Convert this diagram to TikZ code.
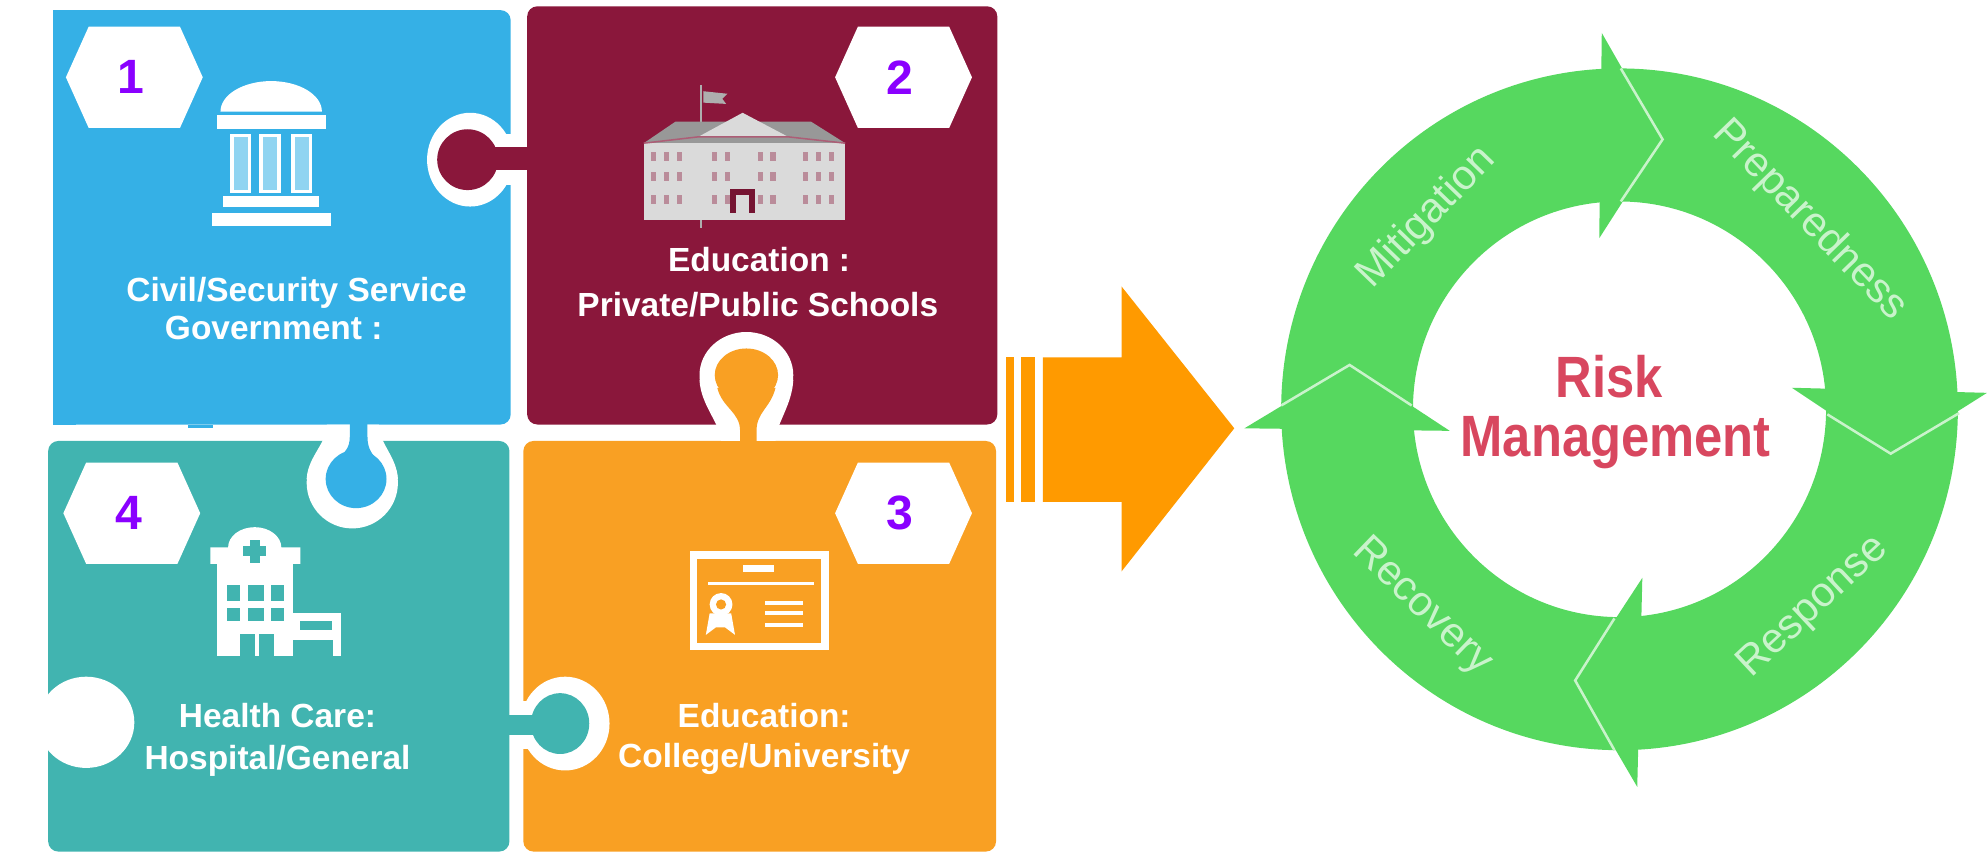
\documentclass[tikz,border=0pt]{standalone}
\usepackage{fontspec}
\setmainfont{Liberation Sans}
\usetikzlibrary{calc,positioning}
\definecolor{skyblue}{HTML}{35B0E6}
\definecolor{wine}{HTML}{8A173B}
\definecolor{sandorange}{HTML}{F9A023}
\definecolor{tealgreen}{HTML}{41B4B0}
\definecolor{arroworange}{HTML}{FF9A00}
\definecolor{ringgreen}{HTML}{56D85F}
\definecolor{ringline}{HTML}{C9F3CB}
\definecolor{numviolet}{HTML}{8A00FF}
\definecolor{riskred}{HTML}{D8475F}
\definecolor{schoolgray}{HTML}{DADADA}
\tikzset{
  paneltext/.style={text=white,font=\fontsize{13.2}{15}\selectfont\bfseries,inner sep=0pt,anchor=base},
  numtext/.style={text=numviolet,font=\fontsize{19}{22}\selectfont\bfseries,inner sep=0pt},
  ringtext/.style={text=ringline,font=\fontsize{16.5}{20}\selectfont,inner sep=0pt},
  risktext/.style={text=riskred,font=\fontsize{23}{26}\selectfont\bfseries,inner sep=0pt,xscale=.87,anchor=base},
}
\begin{document}
\begin{tikzpicture}[x=.5pt,y=-.5pt]
\useasboundingbox (0,0) rectangle (1568,672);

% Puzzle panels with color coding
\foreach \xa/\ya/\xb/\yb/\panelcol in {42/8/403/335/skyblue, 416/5/787/335/wine, 413/348/786/672/sandorange, 38/348/402/672/tealgreen} {
    \fill[fill=\panelcol, rounded corners=4pt] (\xa,\ya) rectangle (\xb,\yb);
}
\fill[skyblue] (42,8) rectangle (60,335);
\fill[skyblue] (148,335) rectangle (168,338);

% Tabs: white ring first, then the colored knob
\fill[white] (371,126) ellipse [x radius=34, y radius=37];
\fill[white] (380,106) rectangle (416,146);
\fill[wine] (369,126) ellipse [x radius=24, y radius=24];
\fill[wine] (369,116) rectangle (420,134);

\fill[white] (589,296) ellipse [x radius=37, y radius=34];
\fill[white] (569,348) .. controls (569,335) and (553,320) .. (552,300) -- (626,300) .. controls (625,320) and (612,335) .. (612,348) -- cycle;
\fill[sandorange] (589,296) ellipse [x radius=25, y radius=21];
\fill[sandorange] (584,352) -- (584,340) .. controls (584,325) and (570,322) .. (566,306) -- (612,306) .. controls (608,322) and (597,325) .. (597,340) -- (597,352) -- cycle;

\fill[white] (278,381) ellipse [x radius=36, y radius=36];
\fill[white] (258,335) .. controls (258,350) and (243,360) .. (242,378) -- (314,378) .. controls (313,360) and (299,350) .. (299,335) -- cycle;
\fill[skyblue] (281,378) ellipse [x radius=24, y radius=23];
\fill[skyblue] (276,330) -- (276,345) .. controls (276,360) and (262,362) .. (258,372) -- (304,372) .. controls (300,362) and (290,360) .. (290,345) -- (290,330) -- cycle;

\fill[white] (446,571) ellipse [x radius=35, y radius=37];
\fill[white] (413,553) rectangle (432,591);
\fill[tealgreen] (442,571) ellipse [x radius=23, y radius=24];
\fill[tealgreen] (398,564) rectangle (445,580);

\fill[white] (68,570) ellipse [x radius=38, y radius=36];

% Number hexagons
\foreach \cx/\cy/\val in {106/61/1, 713/61/2, 713/405/3, 104/405/4} {
    \fill[white] (\cx-54,\cy) -- (\cx-36,\cy-40) -- (\cx+36,\cy-40) -- (\cx+54,\cy) -- (\cx+36,\cy+40) -- (\cx-36,\cy+40) -- cycle;
}
\node[numtext] (numa) at (103,61) {1};
\node[numtext] (numb) at (710,61) {2};
\node[numtext] (numc) at (710,405) {3};
\node[numtext] (numd) at (102,405) {4};

% Government building
\fill[white] (174,88) arc [start angle=180, end angle=360, x radius=40, y radius=24] -- cycle;
\fill[white] (171,91) rectangle (257,102);
\foreach \x in {183, 206, 231} {
    \draw[white, line width=1.4pt, fill=skyblue!55!white] (\x,107) rectangle ++(14,44);
}
\fill[white] (176,155) rectangle (252,163);
\fill[white] (167,168) rectangle (261,178);

% School building
\draw[schoolgray!80!black, line width=.7pt] (553,67) -- (553,180);
\fill[schoolgray!80!black] (555,72) -- (574,74) -- (570,78) -- (573,82) -- (555,81) -- cycle;
\fill[schoolgray!70!black] (508,113) -- (533,96) -- (640,96) -- (667,113) -- cycle;
\fill[schoolgray] (508,113) rectangle (667,174);
\fill[schoolgray] (551,108) -- (586,89) -- (622,108) -- cycle;
\draw[wine!70!white, line width=.6pt] (508,113) -- (551,108) -- (622,108) -- (667,113);
\foreach \x in {514, 524, 534, 562, 572, 598, 608, 634, 644, 654} {
    \foreach \y in {120, 136, 154} {
        \fill[wine!40!schoolgray] (\x,\y) rectangle ++(4,7);
    }
}
\fill[wine!85!black] (576,149) rectangle (596,168);
\fill[schoolgray] (581,154) rectangle (591,174);

% Hospital
\fill[white] (166,445) -- (166,432) -- (180,432) arc [start angle=180, end angle=360, x radius=21, y radius=16] -- (237,432) -- (237,445) -- cycle;
\fill[tealgreen] (197,426) rectangle (205,444);
\fill[tealgreen] (192,431) rectangle (210,439);
\fill[white] (171,445) rectangle (231,518);
\foreach \x/\w in {179/10, 196/12, 214/10} {
    \foreach \y/\h in {462/12, 480/10} {
        \fill[tealgreen] (\x,\y) rectangle ++(\w,\h);
    }
}
\fill[tealgreen] (189,500) rectangle (216,518);
\fill[white] (201,500) rectangle (204,518);
\fill[white] (231,484) rectangle (269,518);
\fill[tealgreen] (237,490) rectangle (262,497);
\fill[tealgreen] (231,505) rectangle (263,518);

% Certificate
\draw[white, line width=2.8pt] (547,438) rectangle (651,510);
\fill[white] (586,446) rectangle (611,451);
\fill[white] (559,459) rectangle (642,462);
\fill[white] (560,484) -- (557,501) -- (565,495) -- (572,495) -- (580,501) -- (577,484) -- cycle;
\fill[white] (569,477) circle (9);
\fill[sandorange] (569,477) circle (4);
\foreach \y in {476, 484, 493} {
    \fill[white] (604,\y-1.5) rectangle (634,\y+1.5);
}

% Panel labels
\node[paneltext] (civil) at (234,238) {Civil/Security Service};
\node[paneltext] (govt) at (216,268) {Government :};
\node[paneltext] (edua) at (599,214) {Education :};
\node[paneltext] (schools) at (598,250) {Private/Public Schools};
\node[paneltext] (edub) at (603,574) {Education:};
\node[paneltext] (college) at (603,606) {College/University};
\node[paneltext] (health) at (219,574) {Health Care:};
\node[paneltext] (hospital) at (219,607) {Hospital/General};

% Big orange arrow
\fill[arroworange] (794,282) rectangle (800,396);
\fill[arroworange] (806,282) rectangle (817,396);
\fill[arroworange] (823,282) -- (885,282) -- (885,226) -- (974,338) -- (885,451) -- (885,396) -- (823,396) -- cycle;

% Risk ring
\fill[ringgreen, even odd rule] (1278,323) ellipse [x radius=267, y radius=269] (1278,323) ellipse [x radius=163, y radius=164];
\fill[ringgreen] (1264,26) -- (1312,110) -- (1262,188) -- cycle;
\fill[ringgreen] (1414,306) -- (1492,358) -- (1568,310) -- cycle;
\fill[ringgreen] (1292,621) -- (1243,537) -- (1296,456) -- cycle;
\fill[ringgreen] (982,338) -- (1065,288) -- (1144,340) -- cycle;
\draw[ringline, line width=1pt] (1279,54) -- (1312,110) -- (1279,159);
\draw[ringline, line width=1pt] (1442,327) -- (1492,358) -- (1546,326);
\draw[ringline, line width=1pt] (1274,592) -- (1243,537) -- (1274,488);
\draw[ringline, line width=1pt] (1011,320) -- (1065,288) -- (1114,320);

\node[ringtext, rotate=46] (mitigation) at (1126,172) {Mitigation};
\node[ringtext, rotate=-46] (preparedness) at (1428,174) {Preparedness};
\node[ringtext, rotate=43] (response) at (1431,479) {Response};
\node[ringtext, rotate=-44] (recovery) at (1122,479) {Recovery};

\node[risktext] (risk) at (1270,314) {Risk};
\node[risktext] (management) at (1275,360) {Management};
\end{tikzpicture}
\end{document}
